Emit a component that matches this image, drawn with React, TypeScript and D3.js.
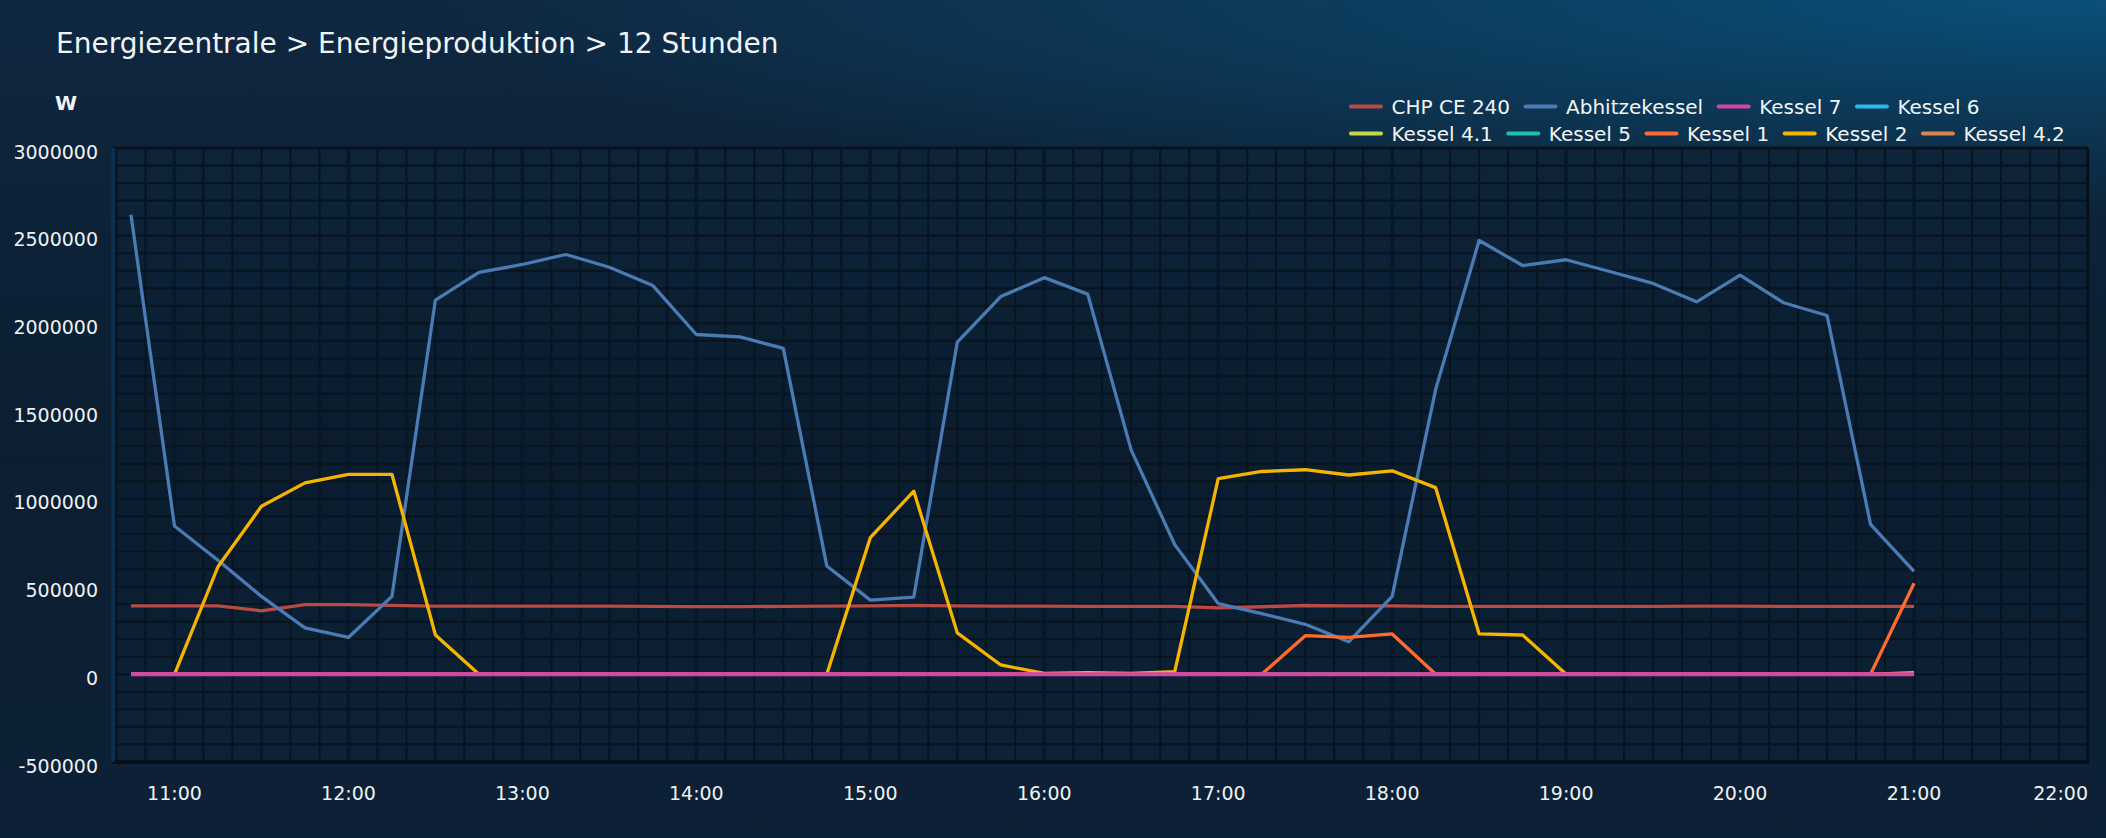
import React from 'react';
import * as d3 from 'd3';

// ---------- DATA ----------
const times = [
  '10:45', '11:00', '11:15', '11:30', '11:45', '12:00', '12:15', '12:30', '12:45', '13:00',
  '13:15', '13:30', '13:45', '14:00', '14:15', '14:30', '14:45', '15:00', '15:15', '15:30',
  '15:45', '16:00', '16:15', '16:30', '16:45', '17:00', '17:15', '17:30', '17:45', '18:00',
  '18:15', '18:30', '18:45', '19:00', '19:15', '19:30', '19:45', '20:00', '20:15', '20:30',
  '20:45', '21:00',
];

const chpCE240 = [
  390000, 390000, 390000, 362000, 397000, 397000, 393000, 388000, 388000, 388000,
  388000, 388000, 387000, 386000, 386000, 387000, 388000, 390000, 393000, 390000,
  388000, 388000, 387000, 387000, 387000, 378000, 385000, 392000, 390000, 390000,
  387000, 387000, 387000, 387000, 387000, 387000, 388000, 388000, 387000, 387000,
  387000, 387000,
];

const abhitzekessel = [
  2620000, 845000, 650000, 444000, 265000, 210000, 444000, 2133000, 2291000, 2336000,
  2393000, 2320000, 2216000, 1937000, 1923000, 1858000, 617000, 423000, 440000, 1893000,
  2153000, 2261000, 2167000, 1278000, 739000, 403000, 346000, 285000, 185000, 444000,
  1624000, 2473000, 2330000, 2363000, 2296000, 2228000, 2123000, 2275000, 2118000, 2045000,
  855000, 586000,
];

const kessel7 = [
  0, 0, 0, 0, 0, 0, 0, 0, 0, 0, 0, 0, 0, 0, 0, 0, 0, 0, 0, 0, 0,
  0, 0, 0, 0, 0, 0, 0, 0, 0, 0, 0, 0, 0, 0, 0, 0, 0, 0, 0, 0, 0,
];

const kessel6 = [
  0, 0, 0, 0, 0, 0, 0, 0, 0, 0, 0, 0, 0, 0, 0, 0, 0, 0, 0, 0, 0,
  0, 0, 0, 0, 0, 0, 0, 0, 0, 0, 0, 0, 0, 0, 0, 0, 0, 0, 0, 0, 0,
];

const kessel41 = [
  0, 0, 0, 0, 0, 0, 0, 0, 0, 0, 0, 0, 0, 0, 0, 0, 0, 0, 0, 0, 0,
  0, 0, 0, 0, 0, 0, 0, 0, 0, 0, 0, 0, 0, 0, 0, 0, 0, 0, 0, 0, 0,
];

const kessel5 = [
  0, 0, 0, 0, 0, 0, 0, 0, 0, 0, 0, 0, 0, 0, 0, 0, 0, 0, 0, 0, 0,
  0, 0, 0, 0, 0, 0, 0, 0, 0, 0, 0, 0, 0, 0, 0, 0, 0, 0, 0, 0, 0,
];

const kessel1 = [
  0, 0, 0, 0, 0, 0, 0, 0, 0, 0, 0, 0, 0, 0, 0, 0, 0, 0, 0, 0,
  0, 0, 0, 0, 0, 0, 0, 220000, 210000, 230000, 0, 0, 0, 0, 0, 0, 0, 0, 0, 0,
  0, 519000,
];

const kessel2 = [
  0, 0, 613000, 958000, 1091000, 1140000, 1140000, 224000, 0, 0,
  0, 0, 0, 0, 0, 0, 0, 779000, 1044000, 236000,
  53000, 5000, 10000, 5000, 15000, 1115000, 1156000, 1166000, 1136000, 1160000,
  1064000, 230000, 224000, 0, 0, 0, 0, 0, 0, 0,
  0, 10000,
];

const kessel42 = [
  0, 0, 0, 0, 0, 0, 0, 0, 0, 0, 0, 0, 0, 0, 0, 0, 0, 0, 0, 0, 0,
  0, 0, 0, 0, 0, 0, 0, 0, 0, 0, 0, 0, 0, 0, 0, 0, 0, 0, 0, 0, 0,
];

const seriesNames = ['CHP CE 240', 'Abhitzekessel', 'Kessel 7', 'Kessel 6', 'Kessel 4.1', 'Kessel 5', 'Kessel 1', 'Kessel 2', 'Kessel 4.2'];
const seriesColors = ['#b94a45', '#4b7bb5', '#d645aa', '#2bb8ec', '#c5d84a', '#20c0a8', '#ff6b2c', '#f4b400', '#d9834f'];
const seriesValues = [chpCE240, abhitzekessel, kessel7, kessel6, kessel41, kessel5, kessel1, kessel2, kessel42];

const yTicks = [-500000, 0, 500000, 1000000, 1500000, 2000000, 2500000, 3000000];
const xTickLabels = ['11:00', '12:00', '13:00', '14:00', '15:00', '16:00', '17:00', '18:00', '19:00', '20:00', '21:00', '22:00'];

const titleText = 'Energiezentrale > Energieproduktion > 12 Stunden';
const unitText = 'W';

// ---------- LAYOUT ----------
const W = 2106;
const H = 838;
const plot = { left: 112, right: 2088, top: 148, bottom: 762 };
const FONT = "'DejaVu Sans', Verdana, sans-serif";

const parseT = (s: string) => {
  const [h, m, sec] = s.split(':').map(Number);
  return new Date(2024, 0, 1, h, m, sec || 0);
};

function measure(text: string, font: string) {
  const c = document.createElement('canvas');
  const ctx = c.getContext('2d');
  if (!ctx) return text.length * 11;
  ctx.font = font;
  return ctx.measureText(text).width;
}

export default function App() {
  const x = d3.scaleTime().domain([parseT('10:38:27'), parseT('22:00')]).range([plot.left, plot.right]);
  const y = d3.scaleLinear().domain([-500000, 3000000]).range([plot.bottom, plot.top]);

  const minorY = d3.range(-500000, 3000001, 100000);
  const minorX = d3.timeMinute.every(10)!.range(parseT('10:40'), parseT('22:00:01'));

  const line = d3
    .line<number>()
    .x((_, i) => x(parseT(times[i])))
    .y((d) => y(d));

  const series = seriesNames.map((name, i) => ({ name, color: seriesColors[i], values: seriesValues[i] }));
  const drawOrder = [...series.filter((s) => s.name !== 'Kessel 7'), ...series.filter((s) => s.name === 'Kessel 7')];

  // legend layout
  const legendFont = `20px ${FONT}`;
  const rows = [series.slice(0, 4), series.slice(4)];
  const legendStartX = 1351;
  const legendRowY = [106.5, 133.5];

  return (
    <svg width={W} height={H} style={{ position: 'fixed', left: 0, top: 0, display: 'block' }} xmlns="http://www.w3.org/2000/svg">
      <defs>
        <linearGradient id="pageBg" x1="0" y1="0" x2="0" y2="1">
          <stop offset="0%" stopColor="#0f2740" />
          <stop offset="22%" stopColor="#0d2338" />
          <stop offset="55%" stopColor="#0c1e31" />
          <stop offset="100%" stopColor="#0d2136" />
        </linearGradient>
        <radialGradient id="glow" gradientUnits="userSpaceOnUse" cx={W} cy={0} r={1} gradientTransform={`translate(${W},0) scale(1700,220) translate(${-W},0)`}>
          <stop offset="0%" stopColor="#0a5079" stopOpacity={1} />
          <stop offset="45%" stopColor="#0a4a70" stopOpacity={0.6} />
          <stop offset="100%" stopColor="#0a4a70" stopOpacity={0} />
        </radialGradient>
        <linearGradient id="plotBg" x1="0" y1="0" x2="0" y2="1">
          <stop offset="0%" stopColor="#0d2439" />
          <stop offset="50%" stopColor="#0a1c2e" />
          <stop offset="100%" stopColor="#0d2237" />
        </linearGradient>
        <clipPath id="plotClip">
          <rect x={plot.left} y={plot.top} width={plot.right - plot.left} height={plot.bottom - plot.top} />
        </clipPath>
      </defs>

      <rect x={0} y={0} width={W} height={H} fill="url(#pageBg)" />
      <rect x={0} y={0} width={W} height={H} fill="url(#glow)" />

      {/* title */}
      <text x={56} y={53} fill="#f2f5f8" fontFamily={FONT} fontSize={28}>
        {titleText}
      </text>
      <text x={55} y={110} fill="#f2f5f8" fontFamily={FONT} fontSize={20} fontWeight="bold">
        {unitText}
      </text>

      {/* legend */}
      {rows.map((row, ri) => {
        let cx = legendStartX;
        return (
          <g key={ri}>
            {row.map((s) => {
              const tw = measure(s.name, legendFont);
              const gx = cx;
              cx += 40.5 + tw + 15.5;
              return (
                <g key={s.name}>
                  <line x1={gx} x2={gx + 30} y1={legendRowY[ri]} y2={legendRowY[ri]} stroke={s.color} strokeWidth={4} strokeLinecap="round" />
                  <text x={gx + 40.5} y={legendRowY[ri] + 7.4} fill="#f2f5f8" fontFamily={FONT} fontSize={20}>
                    {s.name}
                  </text>
                </g>
              );
            })}
          </g>
        );
      })}

      {/* plot background and grid */}
      <rect x={plot.left} y={plot.top} width={plot.right - plot.left} height={plot.bottom - plot.top} fill="url(#plotBg)" />
      <g clipPath="url(#plotClip)">
        {minorX.map((t, i) => {
          const isHour = t.getMinutes() === 0;
          return (
            <line
              key={'vx' + i}
              x1={x(t)}
              x2={x(t)}
              y1={plot.top}
              y2={plot.bottom}
              stroke={isHour ? '#06182a' : '#08141f'}
              strokeWidth={isHour ? 3.5 : 2}
            />
          );
        })}
        {minorY.map((v, i) => (
          <line key={'hy' + i} x1={plot.left} x2={plot.right} y1={y(v)} y2={y(v)} stroke="#08141f" strokeWidth={2.2} />
        ))}
      </g>
      {/* frame */}
      <line x1={plot.left} x2={plot.right} y1={plot.top} y2={plot.top} stroke="#08131e" strokeWidth={3} />
      <line x1={plot.left} x2={plot.right + 1} y1={plot.bottom} y2={plot.bottom} stroke="#050e17" strokeWidth={3.5} />
      <line x1={plot.right} x2={plot.right} y1={plot.top} y2={plot.bottom} stroke="#06101a" strokeWidth={2.5} />
      <line x1={plot.left + 1} x2={plot.left + 1} y1={plot.top} y2={plot.bottom} stroke="#0a3152" strokeWidth={3.5} />

      {/* y axis labels */}
      {yTicks.map((v) => (
        <text key={'yl' + v} x={98} y={y(v) + 10.5} textAnchor="end" fill="#eef2f6" fontFamily={FONT} fontSize={19}>
          {String(v)}
        </text>
      ))}

      {/* x axis labels */}
      {xTickLabels.map((lbl, i) => {
        const px = x(parseT(lbl));
        const last = i === xTickLabels.length - 1;
        return (
          <text
            key={'xl' + lbl}
            x={last ? plot.right : px}
            y={800}
            textAnchor={last ? 'end' : 'middle'}
            fill="#eef2f6"
            fontFamily={FONT}
            fontSize={19}
          >
            {lbl}
          </text>
        );
      })}

      {/* series lines */}
      <g clipPath="url(#plotClip)">
        {drawOrder.map((s) => (
          <path
            key={s.name}
            d={line(s.values) || ''}
            fill="none"
            stroke={s.color}
            strokeWidth={s.name === 'Kessel 7' ? 4 : 3.3}
            strokeLinejoin="round"
          />
        ))}
      </g>
    </svg>
  );
}
